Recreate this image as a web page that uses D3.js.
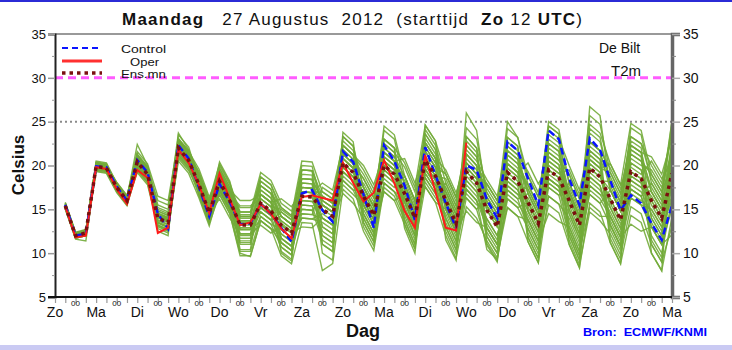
<!DOCTYPE html>
<html>
<head>
<meta charset="utf-8">
<script src="https://cdn.jsdelivr.net/npm/d3@7"></script>
<style>
  body { margin: 0; background: #fff; }
  svg { display: block; }
  text { font-family: "Liberation Sans", Arial, sans-serif; }
</style>
</head>
<body>
<svg id="chart" width="732" height="350"></svg>
<script>
// Forecast steps (hours after run start, Zo 12 UTC)
const hours = [6,12,18,24,30,36,42,48,54,60,66,72,78,84,90,96,102,108,114,120,
  126,132,138,144,150,156,162,168,174,180,186,192,198,204,210,216,222,228,234,240,
  246,252,258,264,270,276,282,288,294,300,306,312,318,324,330,336,342,348,354,360];

// Day labels at 12 UTC, one per day
const dayNames = ["Zo","Ma","Di","Wo","Do","Vr","Za","Zo","Ma","Di","Wo","Do","Vr","Za","Zo","Ma"];
const yTicks = [5,10,15,20,25,30,35];
const yMinor = [7.5,12.5,17.5,22.5,27.5,32.5];

// 2 m temperature, De Bilt (°C)
const control = [15.5,12.0,12.2,19.9,19.8,17.6,16.0,20.6,19.2,14.5,12.8,22.3,20.8,17.5,14.2,17.9,15.8,13.3,13.4,15.6,
  14.5,12.9,11.3,16.8,17.2,14.9,13.6,21.6,20.4,16.7,12.9,22.3,20.5,17.7,13.8,22.1,18.9,15.7,12.9,20.0,
  19.5,16.1,14.0,22.7,21.7,18.5,15.5,24.0,23.0,18.5,15.5,23.1,21.8,18.3,14.9,16.6,15.7,13.4,11.5,15.5];

const oper = [15.3,11.8,12.0,19.8,19.6,17.3,15.6,19.5,18.6,12.3,12.9,21.8,20.3,17.8,14.6,19.1,16.2,13.2,13.5,15.6,
  14.5,12.8,11.7,16.4,16.6,16.3,16.0,20.3,18.0,15.9,16.9,20.6,18.0,14.8,12.9,21.2,17.0,12.9,12.6,22.6];

const ensMean = [15.4,12.0,12.3,19.9,19.7,17.5,16.0,20.4,19.0,14.0,13.5,22.0,20.6,17.8,14.6,18.2,16.0,13.2,13.2,15.7,
  14.8,13.2,12.3,16.5,16.4,15.0,14.2,20.3,19.2,16.5,14.3,20.0,19.0,16.8,14.0,20.6,18.8,16.0,13.4,19.3,
  18.0,14.9,13.0,19.2,18.2,15.8,13.4,19.5,18.6,16.0,13.2,19.7,18.7,16.2,13.8,19.3,18.5,16.0,14.0,19.1];

// Ensemble members
const members = [
  [15.7,12.3,12.6,20.4,20.2,17.8,16.3,22.4,20.0,15.5,15.0,23.7,21.8,18.8,15.6,19.7,17.5,14.2,14.2,18.7,17.8,15.2,14.3,20.5,20.4,17.0,16.2,22.8,21.7,17.5,15.3,24.0,23.0,17.8,15.0,23.6,21.8,16.0,13.4,24.3,23.0,16.9,15.0,24.2,23.2,18.8,16.4,23.5,22.6,18.0,15.2,25.7,24.7,19.2,16.8,23.3,22.5,20.0,18.0,24.1],
  [15.1,11.7,12.0,19.4,19.2,17.1,15.6,19.2,17.8,13.0,12.5,21.0,19.6,17.0,13.8,16.7,14.5,10.0,9.6,13.7,12.8,9.7,8.8,13.5,13.4,8.0,8.8,17.3,16.2,12.5,10.3,17.5,16.5,13.8,11.0,17.6,15.8,12.0,9.4,15.3,14.0,11.4,9.5,15.2,14.2,11.3,8.9,16.5,15.6,11.5,8.7,14.7,13.7,12.2,9.8,15.3,14.5,11.0,9.0,13.1],
  [15.5,12.1,12.4,20.1,19.9,17.5,16.0,20.9,19.5,14.3,13.8,22.6,21.2,19.3,16.1,20.2,18.0,14.7,14.7,19.2,18.3,15.7,14.8,18.5,18.4,16.0,15.2,21.3,20.2,18.5,16.3,22.0,21.0,18.8,16.0,22.1,20.3,19.0,16.4,22.3,21.0,15.9,14.0,21.2,20.2,16.8,14.4,20.5,19.6,17.0,14.2,21.7,20.7,18.2,15.8,22.3,21.5,17.0,15.0,21.1],
  [15.3,11.9,12.2,19.7,19.5,17.2,15.7,20.1,18.7,13.5,13.0,21.4,20.0,16.8,13.6,17.2,15.0,10.2,10.2,14.2,13.3,10.7,9.8,15.5,15.4,12.0,11.2,21.3,20.2,15.5,13.3,21.5,20.5,14.8,12.0,22.6,20.8,15.0,12.4,18.3,17.0,12.9,11.0,20.2,19.2,11.8,9.4,22.5,21.6,13.0,10.2,21.7,20.7,11.2,8.8,20.3,19.5,14.0,12.0,22.1],
  [15.4,12.0,12.3,20.3,20.1,18.0,16.5,21.6,20.2,16.5,16.0,23.0,21.6,19.6,16.4,19.2,17.0,14.7,14.7,17.7,16.8,15.2,14.3,17.5,17.4,16.5,15.7,22.3,21.2,19.5,17.3,21.0,20.0,18.8,16.0,20.6,18.8,18.5,15.9,21.3,20.0,17.9,16.0,20.2,19.2,17.8,15.4,18.5,17.6,17.0,14.2,20.7,19.7,19.2,16.8,21.3,20.5,19.0,17.0,20.1],
  [15.6,12.2,12.5,19.6,19.4,17.3,15.8,19.6,18.2,13.5,13.0,20.8,19.4,17.3,14.1,18.7,16.5,12.2,12.2,16.7,15.8,11.7,10.8,18.5,18.4,13.0,12.2,23.3,22.2,15.5,13.3,23.0,22.0,14.8,12.0,24.6,22.8,15.0,12.4,26.0,24.0,15.9,14.0,23.2,22.2,14.8,12.4,24.5,23.6,15.0,12.2,26.7,25.7,17.2,14.8,24.3,23.5,18.0,16.0,25.1],
  [15.2,11.8,12.1,20.0,19.8,17.5,16.0,20.6,19.2,13.8,13.3,22.5,21.1,17.8,14.6,18.2,16.0,12.7,12.7,15.7,14.8,12.2,11.3,16.0,15.9,14.0,13.2,19.3,18.2,16.5,14.3,19.0,18.0,15.8,13.0,18.6,16.8,14.0,11.4,17.3,16.0,12.9,11.0,18.2,17.2,14.8,12.4,16.5,15.6,14.0,11.2,16.7,15.7,13.2,10.8,16.3,15.5,13.0,11.0,15.1],
  [15.8,12.4,12.7,20.2,20.0,17.7,16.2,21.0,19.6,15.0,14.5,22.3,20.9,18.3,15.1,19.2,17.0,13.7,13.7,16.7,15.8,13.7,12.8,17.5,17.4,15.0,14.2,20.3,19.2,17.5,15.3,20.0,19.0,16.8,14.0,21.6,19.8,17.0,14.4,19.3,18.0,15.9,14.0,21.2,20.2,17.8,15.4,21.5,20.6,19.0,16.2,19.7,18.7,17.2,14.8,18.3,17.5,16.0,14.0,20.1],
  [15.0,11.6,11.4,19.5,19.3,17.0,15.5,19.9,18.5,12.8,12.3,21.2,19.8,16.6,13.4,16.7,14.5,9.7,9.7,13.7,12.8,11.2,10.3,14.5,14.4,14.0,13.2,18.3,17.2,14.5,12.3,17.0,16.0,13.3,10.5,19.6,17.8,13.0,10.4,16.3,15.0,10.9,9.0,17.2,16.2,12.8,10.4,17.5,16.6,12.0,9.2,18.7,17.7,13.2,10.8,17.3,16.5,12.0,10.0,16.1],
  [15.5,12.1,12.4,19.9,19.7,17.6,16.1,20.4,19.0,14.5,14.0,22.8,21.4,18.3,15.1,19.2,17.0,13.2,13.2,17.7,16.8,14.2,13.3,19.5,19.4,16.5,15.7,21.8,20.7,16.5,14.3,22.0,21.0,17.8,15.0,22.6,20.8,17.0,14.4,22.3,21.0,14.9,13.0,22.2,21.2,16.8,14.4,22.5,21.6,17.0,14.2,23.7,22.7,18.2,15.8,21.3,20.5,17.0,15.0,22.1],
  [15.4,12.0,12.3,20.1,19.9,17.4,15.9,20.2,18.8,13.7,13.2,22.0,20.6,18.1,14.9,17.7,15.5,14.2,14.2,14.7,13.8,14.2,13.3,15.0,14.9,16.5,15.7,19.3,18.2,18.0,15.8,18.5,17.5,18.8,16.0,18.6,16.8,18.0,15.4,16.3,15.0,16.4,14.5,17.2,16.2,16.8,14.4,17.5,16.6,18.0,15.2,16.7,15.7,17.2,14.8,17.3,16.5,18.0,16.0,17.1],
  [15.3,11.9,12.2,19.8,19.6,17.7,16.2,21.2,19.8,14.8,14.3,22.5,21.1,17.5,14.3,17.4,15.2,11.7,11.7,16.7,15.8,10.2,9.3,19.5,19.4,11.0,10.2,22.3,21.2,13.5,11.3,23.0,22.0,13.8,11.0,22.6,20.8,11.5,9.2,23.3,22.0,11.9,10.0,23.2,22.2,11.8,9.4,24.5,23.6,11.0,8.4,22.7,21.7,11.7,9.3,22.3,21.5,10.0,8.0,23.1],
  [15.6,12.2,12.5,20.2,20.0,17.9,16.4,20.8,19.4,14.2,13.7,21.7,20.3,18.6,15.4,19.4,17.2,14.0,14.0,14.7,13.8,14.7,13.8,14.5,14.4,17.5,16.7,18.3,17.2,17.0,14.8,19.0,18.0,17.3,14.5,19.6,17.8,17.0,14.4,17.3,16.0,13.9,12.0,16.2,15.2,15.8,13.4,18.5,17.6,15.0,12.2,17.7,16.7,16.2,13.8,16.3,15.5,15.0,13.0,18.1],
  [15.1,11.7,12.0,19.7,19.5,17.4,15.9,19.8,18.4,14.3,13.8,21.5,20.1,17.2,14.0,17.7,15.5,11.2,11.2,15.7,14.8,11.7,10.8,16.5,16.4,12.5,11.7,20.3,19.2,14.5,12.3,20.0,19.0,15.8,13.0,20.6,18.8,14.0,11.4,20.3,19.0,12.9,11.0,18.2,17.2,13.8,11.4,19.5,18.6,13.5,10.7,18.7,17.7,14.2,11.8,19.3,18.5,13.0,11.0,18.1],
  [15.4,12.0,12.3,20.0,19.8,17.8,16.3,20.7,19.3,14.5,14.0,22.9,21.5,18.7,15.5,20.0,17.8,14.4,14.4,18.2,17.3,13.2,12.3,18.0,17.9,14.0,13.2,23.3,22.2,17.5,15.3,24.5,23.5,18.8,16.0,24.1,22.3,18.0,15.4,23.3,22.0,17.4,15.5,25.0,23.2,17.8,15.4,25.0,24.1,18.0,15.2,24.7,23.7,20.2,17.8,24.8,24.0,19.0,17.0,25.1],
  [15.5,12.1,12.4,19.5,19.3,17.2,15.7,19.4,18.0,13.2,12.7,21.6,20.2,17.5,14.3,18.2,16.0,13.7,13.7,16.7,15.8,14.2,13.3,17.0,16.9,15.5,14.7,19.8,18.7,16.0,13.8,20.0,19.0,17.3,14.5,20.1,18.3,16.0,13.4,19.3,18.0,15.4,13.5,19.2,18.2,15.8,13.4,20.5,19.6,16.0,13.2,19.7,18.7,16.2,13.8,20.3,19.5,16.0,14.0,19.1],
  [15.3,11.9,12.2,20.2,20.0,17.6,16.1,20.6,19.2,13.2,12.7,22.2,20.8,17.5,14.3,17.2,15.0,12.2,12.2,15.2,14.3,10.7,9.8,17.0,16.9,12.0,11.2,19.3,18.2,13.0,10.8,18.0,17.0,14.3,11.5,19.1,17.3,13.0,10.4,17.3,16.0,10.4,9.3,16.2,15.2,12.8,10.4,15.5,14.6,11.0,8.3,15.7,14.7,11.2,8.8,14.3,13.5,10.0,8.0,14.1],
  [15.7,12.3,12.6,20.0,19.8,17.7,16.2,21.1,19.7,14.4,13.9,22.7,21.3,18.0,14.8,18.7,16.5,15.2,15.2,17.2,16.3,14.2,13.3,18.5,18.4,16.0,15.2,21.3,20.2,18.5,16.3,22.5,21.5,19.8,17.0,22.6,20.8,19.5,16.9,20.3,19.0,17.9,16.0,22.2,21.2,19.3,16.9,21.5,20.6,19.0,16.2,22.7,21.7,19.7,17.3,22.3,21.5,21.0,19.0,23.1],
  [15.2,11.8,12.1,19.8,19.6,17.6,16.1,20.2,18.8,14.0,13.5,22.2,20.8,17.7,14.5,16.2,14.0,12.2,12.2,13.2,12.3,13.2,12.3,13.0,12.9,14.0,13.2,17.8,16.7,15.5,13.3,17.0,16.0,16.8,14.0,17.6,15.8,15.0,12.4,14.8,13.5,12.9,11.0,15.2,14.2,13.8,11.4,14.5,13.6,13.0,10.2,15.2,14.2,14.2,11.8,13.3,12.5,13.0,11.0,12.1],
  [15.5,12.1,12.4,19.9,19.7,17.5,16.0,20.3,18.9,14.1,13.6,21.9,20.5,18.0,14.8,18.5,16.3,12.9,12.9,16.2,15.3,12.7,11.8,16.0,15.9,15.5,14.7,20.8,19.7,16.5,14.3,20.5,19.5,16.3,13.5,20.6,18.8,15.5,12.9,20.3,19.0,14.9,13.0,20.2,19.2,15.8,13.4,19.5,18.6,16.5,13.7,20.7,19.7,15.2,12.8,19.3,18.5,15.5,13.5,20.1],
  [15.6,12.2,12.5,20.5,20.3,18.0,16.5,21.2,19.8,14.5,14.0,23.5,22.1,18.3,15.1,20.4,18.2,13.5,13.5,18.2,17.3,14.2,13.3,19.5,19.4,15.5,14.7,22.3,21.2,16.0,13.8,21.0,20.0,15.8,13.0,23.1,21.3,16.5,13.9,22.8,21.5,15.4,13.5,20.7,19.7,14.8,12.4,22.0,21.1,16.5,13.7,24.2,23.2,17.7,15.3,21.8,21.0,17.5,15.5,22.6],
  [15.2,11.8,12.1,19.3,19.1,16.9,15.4,19.5,18.1,13.4,12.9,20.5,19.1,16.3,13.1,17.2,15.0,11.4,11.4,14.2,13.3,12.7,11.8,14.0,13.9,14.5,13.7,16.8,15.7,14.0,11.8,18.0,17.0,15.3,12.5,18.1,16.3,14.5,11.9,17.8,16.5,13.9,12.0,16.7,15.7,13.8,11.4,18.0,17.1,14.5,11.7,17.7,16.7,14.7,12.3,17.8,17.0,14.5,12.5,16.6],
  [15.5,12.1,12.4,20.1,19.9,18.1,16.6,21.0,19.6,16.0,15.5,22.7,21.3,19.0,15.8,19.0,16.8,15.4,15.4,16.2,15.3,15.0,14.1,17.0,16.9,17.0,16.2,21.8,20.7,19.0,16.8,23.0,22.0,20.3,17.5,24.6,22.8,19.0,16.4,21.8,20.5,18.4,16.5,22.7,21.7,18.8,16.4,24.0,23.1,20.0,17.2,22.2,21.2,18.7,16.3,23.3,22.5,18.5,16.5,24.1],
  [15.4,12.0,12.3,19.6,19.4,17.5,16.0,20.7,19.3,12.5,12.0,23.0,21.6,16.6,13.4,18.7,16.5,10.4,10.4,17.2,16.3,10.0,9.1,19.0,18.9,10.0,9.2,23.8,22.7,14.5,12.3,21.5,20.5,13.3,10.5,21.6,19.8,13.5,10.9,21.3,20.0,11.1,9.2,21.7,20.7,11.3,8.9,21.0,20.1,12.5,9.7,20.2,19.2,13.2,10.8,21.8,21.0,11.5,9.5,21.1],
  [15.7,12.3,12.6,20.3,20.1,17.7,16.2,20.6,19.2,14.8,14.3,21.2,19.8,18.2,15.0,17.0,14.8,13.7,13.7,15.2,14.3,13.7,12.8,17.5,17.4,16.0,15.2,19.8,18.7,17.0,14.8,20.5,19.5,18.3,15.5,22.1,20.3,17.5,14.9,18.3,17.0,15.4,13.5,17.7,16.7,16.3,13.9,20.0,19.1,17.5,14.7,18.2,17.2,15.2,12.8,18.8,18.0,16.5,14.5,18.1],
  [15.1,11.7,12.0,20.0,19.8,17.3,15.8,19.9,18.5,14.2,13.7,22.3,20.9,17.6,14.4,19.7,17.5,12.7,12.7,17.7,16.8,11.7,10.8,17.5,17.4,13.0,12.2,20.8,19.7,14.0,11.8,22.5,21.5,16.3,13.5,23.6,21.8,15.5,12.9,21.3,20.0,13.4,11.5,19.7,18.7,13.3,10.9,23.0,22.1,14.5,11.7,21.2,20.2,13.7,11.3,22.8,22.0,14.0,12.0,23.1],
  [15.4,12.0,12.3,19.9,19.7,17.8,16.3,20.8,19.4,15.2,14.7,22.4,21.0,18.6,15.4,18.0,15.8,14.0,14.0,15.2,14.3,13.4,12.5,15.5,15.4,15.5,14.7,20.8,19.7,17.5,15.3,19.5,18.5,17.8,15.0,19.6,17.8,16.5,13.9,19.8,18.5,16.4,14.5,18.7,17.7,17.3,14.9,18.0,17.1,16.5,13.7,19.2,18.2,18.2,15.8,18.3,17.5,17.0,15.0,18.6],
  [15.6,12.2,12.5,20.1,19.9,17.5,16.0,20.9,19.5,13.5,13.0,22.5,21.1,17.1,13.9,17.9,15.7,12.0,12.0,14.7,13.8,11.2,10.3,15.0,14.9,11.5,10.7,18.8,17.7,15.0,12.8,19.5,18.5,14.8,12.0,21.1,19.3,15.0,12.4,18.8,17.5,11.9,10.0,17.7,16.7,14.3,11.9,19.0,18.1,12.5,9.7,17.2,16.2,14.2,11.8,17.3,16.5,13.5,11.5,17.6],
  [15.3,11.9,12.2,19.6,19.4,17.3,15.8,20.0,18.6,14.4,13.9,21.7,20.3,18.0,14.8,19.0,16.8,14.2,14.2,18.7,17.8,14.7,13.8,20.0,19.9,15.5,14.7,20.8,19.7,16.0,13.8,21.0,20.0,17.3,14.5,20.1,18.3,17.5,14.9,20.8,19.5,16.9,15.0,21.7,20.7,17.3,14.9,21.0,20.1,17.0,14.2,22.7,21.7,17.2,14.8,20.8,20.0,19.5,17.5,21.6],
  [15.5,12.1,12.4,20.2,20.0,17.8,16.3,21.3,19.9,14.1,13.6,22.1,20.7,17.4,14.2,17.4,15.2,12.7,12.7,13.7,12.8,12.2,11.3,14.0,13.9,13.5,12.7,19.8,18.7,15.5,13.3,18.0,17.0,16.3,13.5,19.1,17.3,15.5,12.9,16.8,15.5,15.4,13.5,19.7,18.7,15.3,12.9,18.5,17.6,15.5,12.7,20.2,19.2,15.7,13.3,16.8,16.0,15.0,13.0,16.1],
  [15.4,12.0,12.3,19.7,19.5,17.6,16.1,20.5,19.1,14.6,14.1,23.1,21.7,19.1,15.9,19.4,17.2,16.0,16.0,16.7,15.8,16.2,15.3,17.0,16.9,18.0,17.2,22.3,21.2,20.0,17.8,21.5,20.5,20.8,18.0,21.6,19.8,19.0,16.4,19.8,18.5,17.9,16.0,20.2,19.2,20.3,17.9,20.0,19.1,19.5,16.7,20.7,19.7,20.2,17.8,19.8,19.0,20.5,18.5,20.6],
  [15.2,11.8,12.1,20.1,19.9,17.2,15.7,20.1,18.7,13.1,12.6,21.8,20.4,16.9,13.7,18.4,16.2,11.0,11.0,16.2,15.3,11.2,10.3,18.0,17.9,11.0,10.2,21.3,20.2,13.5,11.3,20.5,19.5,12.8,10.0,20.1,18.3,12.5,9.9,19.8,18.5,12.4,10.5,18.7,17.7,12.3,9.9,18.5,17.6,12.0,9.2,21.2,20.2,12.7,10.3,18.8,18.0,11.0,9.0,19.6]
];

const svg = d3.select("#chart");
const plotLeft = 55, plotRight = 672, plotTop = 34, plotBottom = 297;

const x = d3.scaleLinear().domain([0, 360]).range([plotLeft, plotRight]);
const y = d3.scaleLinear().domain([5, 35]).range([plotBottom, plotTop]);

// page strips
svg.append("rect").attr("x", 0).attr("y", 0).attr("width", 732).attr("height", 2).attr("fill", "#2b2bd6");
svg.append("rect").attr("x", 0).attr("y", 345).attr("width", 732).attr("height", 5).attr("fill", "#cacaf3");

// title
const title = svg.append("text").attr("x", 122).attr("y", 25).attr("font-size", 17)
  .attr("textLength", 460).attr("lengthAdjust", "spacing").style("white-space", "pre").attr("fill", "#111");
title.append("tspan").attr("font-weight", "bold").text("Maandag");
title.append("tspan").text("   27 Augustus  2012  (starttijd  ");
title.append("tspan").attr("font-weight", "bold").text("Zo");
title.append("tspan").text(" 12 ");
title.append("tspan").attr("font-weight", "bold").text("UTC");
title.append("tspan").text(")");

// reference levels
svg.append("line").attr("x1", plotLeft).attr("x2", plotRight).attr("y1", y(30)).attr("y2", y(30))
  .attr("stroke", "#ff5cff").attr("stroke-width", 3).attr("stroke-dasharray", "8,5");
svg.append("line").attr("x1", plotLeft).attr("x2", plotRight).attr("y1", y(25)).attr("y2", y(25))
  .attr("stroke", "#8a8a8a").attr("stroke-width", 2).attr("stroke-dasharray", "2,3");

// series
const lineFor = d3.line().x((d, i) => x(hours[i])).y(d => y(d));

svg.append("g").selectAll("path").data(members).join("path")
  .attr("d", lineFor).attr("fill", "none")
  .attr("stroke", "#72ab38").attr("stroke-width", 1.4).attr("stroke-opacity", 0.9);

svg.append("path").attr("d", lineFor(control)).attr("fill", "none")
  .attr("stroke", "#0a14ff").attr("stroke-width", 2.5).attr("stroke-dasharray", "7,4");
svg.append("path").attr("d", lineFor(oper)).attr("fill", "none")
  .attr("stroke", "#ff1a1a").attr("stroke-width", 2);
svg.append("path").attr("d", lineFor(ensMean)).attr("fill", "none")
  .attr("stroke", "#7a0f0f").attr("stroke-width", 3.5).attr("stroke-dasharray", "3.5,4");

// frame: top edge
svg.append("line").attr("x1", plotLeft).attr("x2", plotRight + 8).attr("y1", plotTop).attr("y2", plotTop)
  .attr("stroke", "#777").attr("stroke-width", 1.5);

// left axis
const gL = svg.append("g").attr("transform", `translate(${plotLeft},0)`)
  .call(d3.axisLeft(y).tickValues(yTicks).tickSize(7).tickPadding(2));
gL.attr("font-family", null);
gL.select(".domain").attr("stroke", "#222").attr("stroke-width", 2);
gL.selectAll(".tick line").attr("stroke", "#999").attr("stroke-width", 1.5);
gL.selectAll(".tick text").attr("font-size", 13).attr("fill", "#111");
svg.append("g").attr("transform", `translate(${plotLeft},0)`)
  .call(d3.axisLeft(y).tickValues(yMinor).tickSize(3).tickFormat(""))
  .call(g => { g.select(".domain").remove(); g.selectAll("line").attr("stroke", "#999"); });

// right axis
const gR = svg.append("g").attr("transform", `translate(${plotRight},0)`)
  .call(d3.axisRight(y).tickValues(yTicks).tickSize(8).tickPadding(3));
gR.attr("font-family", null);
gR.select(".domain").attr("stroke", "#666").attr("stroke-width", 3.5);
gR.selectAll(".tick line").attr("stroke", "#aaa").attr("stroke-width", 1.5);
gR.selectAll(".tick text").attr("font-size", 14).attr("fill", "#111");
svg.append("g").attr("transform", `translate(${plotRight},0)`)
  .call(d3.axisRight(y).tickValues(yMinor).tickSize(4).tickFormat(""))
  .call(g => { g.select(".domain").remove(); g.selectAll("line").attr("stroke", "#888"); });

// bottom axis: 6-hourly ticks, day names at 12 UTC, "00" at midnight
const sixHourly = d3.range(0, 361, 6);
const gB = svg.append("g").attr("transform", `translate(0,${plotBottom})`)
  .call(d3.axisBottom(x).tickValues(sixHourly).tickSize(6).tickFormat(""));
gB.select(".domain").remove();
gB.selectAll(".tick line").attr("stroke", "#999").attr("stroke-width", 1.2);
svg.append("line").attr("x1", plotLeft - 7).attr("x2", plotRight).attr("y1", plotBottom).attr("y2", plotBottom)
  .attr("stroke", "#111").attr("stroke-width", 2);

svg.append("g").selectAll("text").data(dayNames).join("text")
  .attr("x", (d, i) => x(i * 24)).attr("y", 317).attr("text-anchor", "middle")
  .attr("font-size", 14).attr("fill", "#111").text(d => d);
svg.append("g").selectAll("text").data(dayNames.slice(1)).join("text")
  .attr("x", (d, i) => x(i * 24 + 12)).attr("y", 306).attr("text-anchor", "middle")
  .attr("font-size", 8).attr("fill", "#111").text("00");

// axis titles
svg.append("text").attr("transform", "translate(24,165) rotate(-90)").attr("text-anchor", "middle")
  .attr("font-size", 17).attr("font-weight", "bold").attr("fill", "#111").text("Celsius");
svg.append("text").attr("x", 363).attr("y", 337).attr("text-anchor", "middle")
  .attr("font-size", 18).attr("font-weight", "bold").attr("fill", "#111").text("Dag");
svg.append("text").attr("x", 583).attr("y", 336).attr("font-size", 10).attr("font-weight", "bold")
  .attr("textLength", 124).attr("lengthAdjust", "spacingAndGlyphs").style("white-space", "pre")
  .attr("fill", "#0000ff").text("Bron:  ECMWF/KNMI");

// station and parameter
svg.append("text").attr("x", 599).attr("y", 53).attr("font-size", 14).attr("fill", "#111").text("De Bilt");
svg.append("text").attr("x", 611).attr("y", 76).attr("font-size", 15).attr("fill", "#111").text("T2m");

// legend
const legend = [
  { label: "Control", y: 48, ty: 53, tx: 121, stroke: "#0a14ff", w: 2, dash: "6,4" },
  { label: "Oper", y: 61, ty: 65.5, tx: 130, stroke: "#ff3030", w: 3, dash: null },
  { label: "Ens.mn", y: 73, ty: 78, tx: 121, stroke: "#7a0f0f", w: 3.5, dash: "3.5,4" }
];
const lg = svg.append("g");
legend.forEach(l => {
  lg.append("line").attr("x1", 62).attr("x2", 102).attr("y1", l.y).attr("y2", l.y)
    .attr("stroke", l.stroke).attr("stroke-width", l.w).attr("stroke-dasharray", l.dash);
  lg.append("text").attr("x", l.tx).attr("y", l.ty).attr("font-size", 11)
    .attr("textLength", l.label === "Oper" ? 29 : 45).attr("lengthAdjust", "spacingAndGlyphs")
    .attr("fill", "#111").text(l.label);
});
</script>
</body>
</html>
